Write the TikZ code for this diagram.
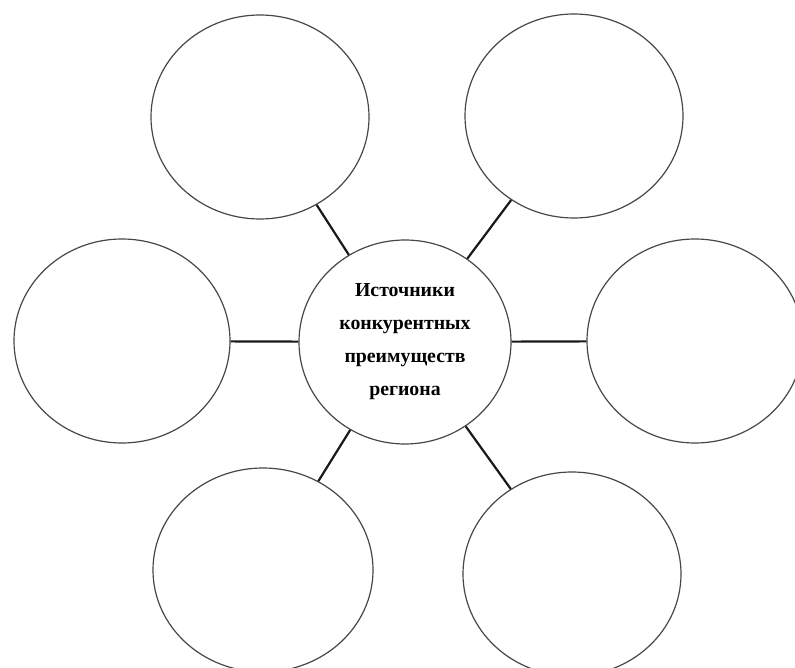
\documentclass[tikz,border=0pt]{standalone}
\usepackage{fontspec}
\setmainfont{Liberation Serif}
\usetikzlibrary{shapes.geometric}
\begin{document}
\begin{tikzpicture}[x=1pt,y=-1pt,
  bubble/.style={ellipse,draw=black!72,line width=1.2pt,inner sep=0pt,minimum width=218pt,minimum height=204pt},
  link/.style={draw=black!90,line width=2.2pt}]
\useasboundingbox (0,0) rectangle (795,668);
\node[bubble,minimum width=212pt,minimum height=204pt,align=center,font=\bfseries\fontsize{19.8}{33}\selectfont] (c) at (405,342) {Источники\\конкурентных\\преимуществ\\региона};
\node[bubble] (tl) at (260,117) {};
\node[bubble] (tr) at (574,116) {};
\node[bubble,minimum width=216pt] (l) at (122,341) {};
\node[bubble,minimum width=216pt] (r) at (695,341) {};
\node[bubble,minimum width=220pt] (bl) at (263,570) {};
\node[bubble] (br) at (572,574) {};
\draw[link] (tl) -- (c);
\draw[link] (tr) -- (c);
\draw[link] (l) -- (c);
\draw[link] (r) -- (c);
\draw[link] (bl) -- (c);
\draw[link] (br) -- (c);
\end{tikzpicture}
\end{document}
